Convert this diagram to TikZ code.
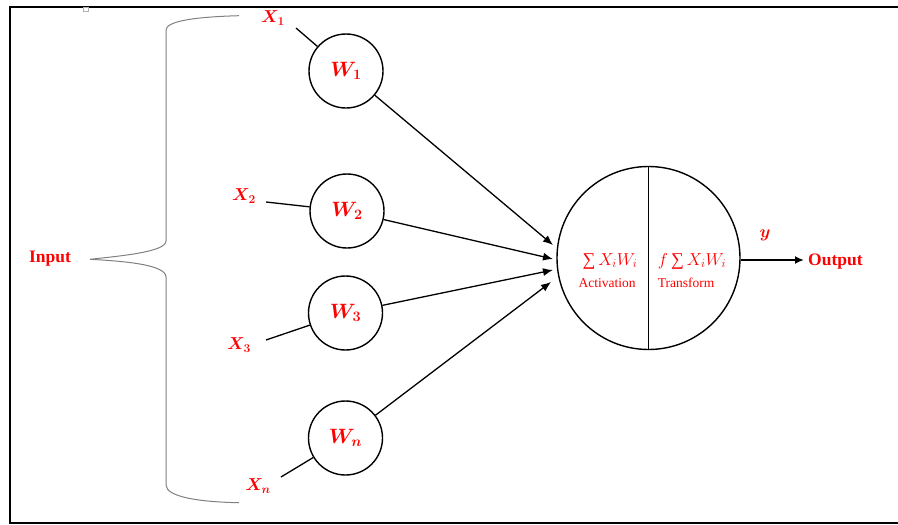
\documentclass[tikz,border=0pt]{standalone}
\usepackage{fontspec}
\setmainfont{Liberation Serif}
\usepackage{bm}
\usetikzlibrary{arrows.meta}
\tikzset{
  wcirc/.style={draw, circle, line width=1.4pt, minimum size=74pt, inner sep=0pt, text=red, font=\fontsize{21}{24}\selectfont},
  xlab/.style={text=red, inner sep=0pt, font=\fontsize{17}{20}\selectfont},
  conn/.style={line width=1.3pt},
  arr/.style={line width=1.3pt, -{Latex[length=10pt,width=8pt]}},
  redtxt/.style={text=red, inner sep=0pt},
  brace/.style={draw=gray, line width=1pt},
  frame/.style={line width=2.5pt}
}
\begin{document}
\begin{tikzpicture}[x=1pt,y=-1pt]
\useasboundingbox (0,0) rectangle (898,525);
% frame
\draw[frame] (899,7) -- (10,7) -- (10,523) -- (899,523);
\draw[gray!60, line width=0.6pt] (83,7.5) rectangle (88.5,11);
% brace
\draw[brace] (239,15.7) .. controls (190,17) and (166,22) .. (166,30) -- (166,241)
  .. controls (166,252) and (120,256) .. (90,259.3)
  .. controls (120,261) and (166,264) .. (166,277) -- (166,485)
  .. controls (166,497) and (200,502) .. (239,502.7);
% input label
\node[redtxt, anchor=base, font=\fontsize{17.5}{20}\selectfont\bfseries] (input) at (50,262) {Input};
% weight circles
\node[wcirc] (w1) at (346,71) {$\bm{W_1}$};
\node[wcirc] (w2) at (347,211) {$\bm{W_2}$};
\node[wcirc] (w3) at (345.5,313) {$\bm{W_3}$};
\node[wcirc] (wn) at (345.5,438) {$\bm{W_n}$};
% x labels
\node[xlab] (x1) at (273,18) {$\bm{X_1}$};
\node[xlab] (x2) at (244,196) {$\bm{X_2}$};
\node[xlab] (x3) at (239,345) {$\bm{X_3}$};
\node[xlab] (xn) at (258,486) {$\bm{X_n}$};
\coordinate (s1) at (296,28);
\coordinate (s2) at (266,202);
\coordinate (s3) at (266,340);
\coordinate (sn) at (281,477);
\draw[conn] (s1) -- (w1);
\draw[conn] (s2) -- (w2);
\draw[conn] (s3) -- (w3);
\draw[conn] (sn) -- (wn);
% neuron
\node[draw, circle, line width=1.4pt, minimum size=183pt, inner sep=0pt] (neuron) at (648.5,258) {};
\draw[line width=1.4pt] (neuron.north) -- (neuron.south);
\coordinate (t1) at (553,245);
\coordinate (t2) at (553,259);
\coordinate (t3) at (553,270);
\coordinate (tn) at (551,282);
\draw[arr] (w1) -- (t1);
\draw[arr] (w2) -- (t2);
\draw[arr] (w3) -- (t3);
\draw[arr] (wn) -- (tn);
% texts in neuron
\node[redtxt, anchor=base, font=\fontsize{18}{20}\selectfont] (sum1) at (610,265) {∑\,$X_iW_i$};
\node[redtxt, anchor=base, font=\fontsize{13.5}{16}\selectfont] (act) at (607,287) {Activation};
\node[redtxt, anchor=base, font=\fontsize{18}{20}\selectfont] (sum2) at (692,265) {$f$\,∑\,$X_iW_i$};
\node[redtxt, anchor=base, font=\fontsize{13.5}{16}\selectfont] (trf) at (686,287) {Transform};
% output
\coordinate (oend) at (804,260);
\draw[line width=2.2pt, -{Latex[length=9pt,width=8pt]}] (neuron.east |- oend) -- (oend);
\node[redtxt, anchor=base west, font=\fontsize{17.5}{20}\selectfont\bfseries] (output) at (808,265) {Output};
\node[xlab] (y) at (765,235) {$\bm{y}$};
\end{tikzpicture}
\end{document}
